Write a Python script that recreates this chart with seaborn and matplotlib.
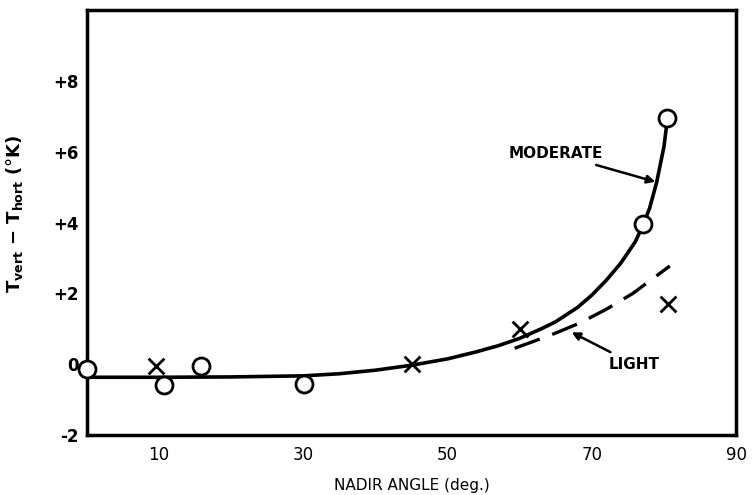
import matplotlib
matplotlib.use("Agg")
import matplotlib.pyplot as plt
import seaborn as sns
import pandas as pd

# Data
mod_pts_x = [0, 10.7, 15.8, 30.1, 77.1, 80.4]
mod_pts_y = [-0.15, -0.6, -0.05, -0.55, 3.95, 6.95]
light_pts_x = [9.6, 45.0, 60.0, 80.6]
light_pts_y = [-0.05, 0.0, 1.0, 1.7]

mod_curve_x = [0, 10, 20, 30, 35, 40, 45, 50, 54, 57, 60, 63, 65, 68, 70, 72, 74, 76, 77, 78, 79, 80, 80.4]
mod_curve_y = [-0.37, -0.37, -0.36, -0.33, -0.27, -0.17, -0.03, 0.15, 0.35, 0.52, 0.73, 1.0, 1.2, 1.6,
               1.95, 2.37, 2.85, 3.45, 3.88, 4.4, 5.15, 6.15, 6.8]
light_curve_x = [59.3, 62, 65, 68.3, 72, 75.7, 78, 80.8]
light_curve_y = [0.45, 0.65, 0.88, 1.16, 1.55, 2.0, 2.35, 2.77]

ytick_vals = [-2, 0, 2, 4, 6, 8]
ytick_labels = ["-2", "0", "+2", "+4", "+6", "+8"]
xtick_vals = [10, 30, 50, 70, 90]
xtick_labels = ["10", "30", "50", "70", "90"]

sns.set_style("white")
plt.rcParams['font.family'] = ['DejaVu Sans']
plt.rcParams['text.color'] = 'black'
plt.rcParams['axes.labelcolor'] = 'black'
plt.rcParams['xtick.color'] = 'black'
plt.rcParams['ytick.color'] = 'black'

fig = plt.figure(figsize=(7.55, 4.95), dpi=100)
ax = fig.add_axes([0.1152, 0.1212, 0.8598, 0.8586])

mc = pd.DataFrame({"x": mod_curve_x, "y": mod_curve_y})
lc = pd.DataFrame({"x": light_curve_x, "y": light_curve_y})
sns.lineplot(data=mc, x="x", y="y", ax=ax, color="black", linewidth=2.6, sort=False, estimator=None)
sns.lineplot(data=lc, x="x", y="y", ax=ax, color="black", linewidth=2.4, sort=False, estimator=None,
             dashes=False)
ax.lines[-1].set_dashes([8, 4])

mp = pd.DataFrame({"x": mod_pts_x, "y": mod_pts_y})
lp = pd.DataFrame({"x": light_pts_x, "y": light_pts_y})
sns.scatterplot(data=mp, x="x", y="y", ax=ax, marker="o", s=150, facecolor="white",
                edgecolor="black", linewidth=2.0, zorder=5, clip_on=False)
sns.scatterplot(data=lp, x="x", y="y", ax=ax, marker="x", s=130, color="black",
                linewidth=2.0, zorder=5, clip_on=False)

ax.set_xlim(0, 90)
ax.set_ylim(-2, 10)

ax.set_yticks(ytick_vals)
ax.set_yticklabels(ytick_labels, fontsize=12, fontweight="bold")
ax.set_xticks(xtick_vals)
ax.set_xticklabels(xtick_labels, fontsize=12)
ax.tick_params(axis="y", direction="in", length=10, width=2, pad=6, colors="black")
ax.tick_params(axis="x", direction="in", length=8, width=2, pad=8, colors="black")
for t in ax.yaxis.get_major_ticks():
    if t.get_loc() == -2:
        t.tick1line.set_visible(False)
for t in ax.xaxis.get_major_ticks():
    if t.get_loc() == 90:
        t.tick1line.set_visible(False)

for sp in ax.spines.values():
    sp.set_visible(True)
    sp.set_linewidth(2.5)
    sp.set_color("black")

ax.set_xlabel("NADIR ANGLE (deg.)", fontsize=11, labelpad=10, color="black")
ax.set_ylabel(r"T$_{\mathbf{vert}}$ $\mathbf{-}$ T$_{\mathbf{hort}}$ (°K)", fontsize=13,
              fontweight="bold", labelpad=14, color="black")
ax.yaxis.set_label_coords(-0.095, 0.52)

ax.annotate("MODERATE", xy=(78.8, 5.15), xytext=(71.5, 5.95), fontsize=11, fontweight="bold",
            ha="right", va="center", color="black",
            arrowprops=dict(arrowstyle="-|>", color="black", lw=1.8, mutation_scale=12,
                            shrinkA=2, shrinkB=0))
ax.annotate("LIGHT", xy=(67.2, 0.9), xytext=(72.3, 0.0), fontsize=11, fontweight="bold",
            ha="left", va="center", color="black",
            arrowprops=dict(arrowstyle="-|>", color="black", lw=1.8, mutation_scale=12,
                            shrinkA=2, shrinkB=0))

fig.savefig("out.png", dpi=100)
